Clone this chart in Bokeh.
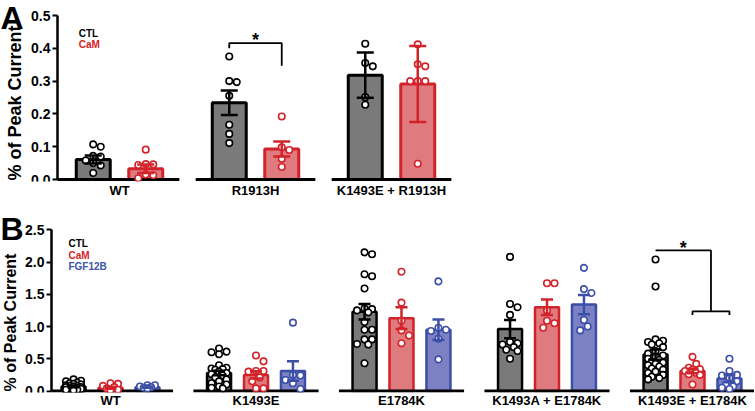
import math
from bokeh.plotting import figure
from bokeh.models import Range1d, FixedTicker, PrintfTickFormatter, Label
from bokeh.layouts import column
from bokeh.embed import file_html
from bokeh.resources import INLINE

FONT = "Liberation Sans"

# ---------------- Panel A data ----------------
A_groups = ["WT", "R1913H", "K1493E + R1913H"]
A_series = ["CTL", "CaM"]
A_ctl_mean = [0.061, 0.234, 0.318]
A_ctl_sem = [0.012, 0.037, 0.069]
A_cam_mean = [0.033, 0.093, 0.291]
A_cam_sem = [0.013, 0.023, 0.116]
A_ctl_pts = [
    [0.107, 0.100, 0.072, 0.070, 0.058, 0.050, 0.043, 0.020],
    [0.375, 0.300, 0.297, 0.255, 0.167, 0.139, 0.111],
    [0.414, 0.355, 0.345, 0.251, 0.228],
]
A_cam_pts = [
    [0.091, 0.047, 0.046, 0.044, 0.015, 0.013, 0.004],
    [0.192, 0.098, 0.090, 0.063, 0.038],
    [0.412, 0.351, 0.345, 0.300, 0.300, 0.300, 0.048],
]
A_yticks = [0.0, 0.1, 0.2, 0.3, 0.4, 0.5]
A_sig_levels = [0.400, 0.416, 0.347]   # left end, top, right end

# ---------------- Panel B data ----------------
B_groups = ["WT", "K1493E", "E1784K", "K1493A + E1784K", "K1493E + E1784K"]
B_series = ["CTL", "CaM", "FGF12B"]
B_ctl_mean = [0.070, 0.280, 1.230, 0.960, 0.565]
B_ctl_sem = [0.010, 0.035, 0.120, 0.140, 0.080]
B_cam_mean = [0.050, 0.250, 1.130, 1.300, 0.310]
B_cam_sem = [0.015, 0.055, 0.170, 0.120, 0.035]
B_fgf_mean = [0.060, 0.310, 0.950, 1.340, 0.195]
B_fgf_sem = [0.008, 0.150, 0.160, 0.150, 0.060]
B_ctl_pts = [
    [0.18, 0.16, 0.15, 0.13, 0.12, 0.11, 0.10, 0.09, 0.08, 0.08, 0.07, 0.06, 0.06, 0.05, 0.04, 0.04, 0.03, 0.02, 0.02, 0.01],
    [0.66, 0.61, 0.60, 0.57, 0.40, 0.36, 0.35, 0.34, 0.33, 0.30, 0.28, 0.26, 0.24, 0.21, 0.18, 0.15, 0.12, 0.10, 0.07, 0.05, 0.04],
    [2.15, 2.12, 1.81, 1.78, 1.59, 1.28, 1.27, 1.25, 1.22, 1.07, 0.95, 0.95, 0.80, 0.80, 0.73, 0.72, 0.43],
    [2.08, 1.35, 1.30, 1.18, 0.76, 0.74, 0.72, 0.68, 0.64, 0.62, 0.50],
    [2.04, 1.62, 0.80, 0.78, 0.76, 0.74, 0.72, 0.68, 0.62, 0.58, 0.55, 0.52, 0.50, 0.48, 0.46, 0.44,
     0.42, 0.40, 0.38, 0.35, 0.33, 0.30, 0.28, 0.25, 0.22, 0.20, 0.18],
]
B_cam_pts = [
    [0.12, 0.11, 0.08, 0.06, 0.04, 0.02, 0.01],
    [0.55, 0.46, 0.31, 0.31, 0.30, 0.21, 0.15, 0.04, 0.04],
    [1.85, 1.37, 1.09, 0.94, 0.86, 0.74],
    [1.67, 1.67, 1.25, 1.09, 1.05, 0.98],
    [0.53, 0.42, 0.36, 0.34, 0.33, 0.31, 0.28, 0.26, 0.25, 0.10],
]
B_fgf_pts = [
    [0.09, 0.09, 0.07, 0.06, 0.05, 0.04],
    [1.06, 0.25, 0.24, 0.17, 0.12, 0.03],
    [1.70, 0.98, 0.95, 0.93, 0.81, 0.49],
    [1.91, 1.58, 1.52, 1.10, 1.00, 0.94],
    [0.50, 0.31, 0.25, 0.24, 0.20, 0.15, 0.10, 0.07, 0.05, 0.03],
]
B_yticks = [0.0, 0.5, 1.0, 1.5, 2.0, 2.5]
B_sig_levels = [2.18, 1.235, 1.18]   # top line, lower bracket, bracket feet

Y_LABEL = "% of Peak Current"

STYLE = {
    "CTL": dict(fill="#7a7a7a", line="#000000", text="#000000"),
    "CaM": dict(fill="#df7b7e", line="#d2232a", text="#d2232a"),
    "FGF12B": dict(fill="#7c81c4", line="#3c4fa6", text="#3c55a8"),
}

W = 754


def swarm(vals, cx, xpu, ypu, d, maxw):
    placed = []
    xs = [0.0] * len(vals)
    order = sorted(range(len(vals)), key=lambda i: -vals[i])
    step = d * 0.5
    cands = [0.0]
    k = 1
    while k * step <= maxw:
        cands += [k * step, -k * step]
        k += 1
    for i in order:
        y = vals[i] * ypu
        best, best_d = None, -1
        for off in cands:
            md = min([((off - px) ** 2 + (y - py) ** 2) ** 0.5 for px, py in placed] + [1e9])
            if md >= d * 0.95:
                best = off
                break
            if md > best_d:
                best_d, best = md, off
        placed.append((best, y))
        xs[i] = cx + best / xpu
    return xs


def put_text(p, x, y, text, size, color, align="left", baseline="middle", angle=0.0):
    p.add_layout(Label(x=x, y=y, text=text, text_align=align, text_baseline=baseline,
                       angle=angle, text_font=FONT, text_font_size=size,
                       text_font_style="bold", text_color=color))


def make_panel(groups, series, means, sems, pts, offsets, bar_w, base_half,
               height, bottom, axis_px, g0_px, xpu, zero_px, top_px, yticks,
               label_size, label_px, lw_bar, pt_size, maxw, xlab_standoff):
    ytop = yticks[-1]
    ypu = (zero_px - top_px) / ytop
    frame_bottom = height - bottom
    y_start = -(frame_bottom - zero_px) / ypu
    y_end = ytop + top_px / ypu
    x_left = -g0_px / xpu
    x_right = (W - g0_px) / xpu
    x_axis = (axis_px - g0_px) / xpu
    p = figure(width=W, height=height, output_backend="svg", toolbar_location=None,
               x_range=Range1d(x_left, x_right), y_range=Range1d(y_start, y_end),
               min_border_left=0, min_border_right=0, min_border_top=0,
               min_border_bottom=bottom)
    p.outline_line_color = None
    p.xgrid.visible = False
    p.ygrid.visible = False

    for si, s in enumerate(series):
        st = STYLE[s]
        xs = [g + offsets[si] for g in range(len(groups))]
        p.vbar(x=xs, top=means[si], bottom=0, width=bar_w, fill_color=st["fill"],
               line_color=st["line"], line_width=lw_bar)

    x0 = [x_axis if g == 0 else g - base_half for g in range(len(groups))]
    x1 = [g + base_half for g in range(len(groups))]
    p.segment(x0=x0, x1=x1, y0=[0] * len(groups), y1=[0] * len(groups),
              line_color="black", line_width=3)

    for si, s in enumerate(series):
        st = STYLE[s]
        px, py = [], []
        for g in range(len(groups)):
            vals = pts[si][g]
            px += swarm(vals, g + offsets[si], xpu, ypu, pt_size + 1, maxw)
            py += vals
        p.scatter(x=px, y=py, marker="circle", size=pt_size, fill_color="white",
                  line_color=st["line"], line_width=1.6)

    for si, s in enumerate(series):
        st = STYLE[s]
        xs = [g + offsets[si] for g in range(len(groups))]
        lo = [m - e for m, e in zip(means[si], sems[si])]
        hi = [m + e for m, e in zip(means[si], sems[si])]
        p.segment(x0=xs, x1=xs, y0=lo, y1=hi, line_color=st["line"], line_width=2.5)
        cw = bar_w * 0.25
        p.segment(x0=[x - cw for x in xs] * 2, x1=[x + cw for x in xs] * 2,
                  y0=lo + hi, y1=lo + hi, line_color=st["line"], line_width=2.5)

    ya = p.yaxis[0]
    ya.fixed_location = x_axis
    ya.ticker = FixedTicker(ticks=yticks)
    ya.formatter = PrintfTickFormatter(format="%.1f")
    ya.bounds = (0, ytop)
    ya.axis_line_width = 2.5
    ya.major_tick_line_width = 2
    ya.major_tick_out = 5
    ya.major_tick_in = 0
    ya.minor_tick_line_color = None
    ya.minor_tick_out = 0
    ya.major_label_text_font = FONT
    ya.major_label_text_font_size = "14px"
    ya.major_label_text_font_style = "bold"
    ya.major_label_text_color = "black"
    ya.major_label_standoff = 2

    # rotated value-axis title, placed inside the (extended) frame
    lx, ly = label_px
    put_text(p, (lx - g0_px) / xpu, (zero_px - ly) / ypu, Y_LABEL, label_size, "black",
             align="center", baseline="middle", angle=math.pi / 2)

    xa = p.xaxis[0]
    xa.ticker = FixedTicker(ticks=list(range(len(groups))))
    xa.major_label_overrides = {i: g for i, g in enumerate(groups)}
    xa.axis_line_color = None
    xa.major_tick_line_color = None
    xa.minor_tick_line_color = None
    xa.major_tick_out = 0
    xa.major_tick_in = 0
    xa.minor_tick_out = 0
    xa.minor_tick_in = 0
    xa.axis_label_standoff = 0
    xa.major_label_text_font = FONT
    xa.major_label_text_font_size = "13px"
    xa.major_label_text_font_style = "bold"
    xa.major_label_text_color = "black"
    xa.major_label_standoff = xlab_standoff
    return p, x_left, ypu


# ---------------- Panel A ----------------
A_H = 200
A_off = [-0.193, 0.193]
pA, axl, aypu = make_panel(
    A_groups, A_series, [A_ctl_mean, A_cam_mean], [A_ctl_sem, A_cam_sem],
    [A_ctl_pts, A_cam_pts], A_off, 0.25, 0.44,
    height=A_H, bottom=19, axis_px=57, g0_px=119, xpu=136.0, zero_px=179, top_px=15,
    yticks=A_yticks, label_size="18px", label_px=(14, 102.5), lw_bar=3, pt_size=6.5,
    maxw=13, xlab_standoff=1)

gx0, gx1 = 1 + A_off[0], 1 + A_off[1]
pA.line(x=[gx0, gx0, gx1, gx1], y=[A_sig_levels[0], A_sig_levels[1], A_sig_levels[1], A_sig_levels[2]],
        line_color="black", line_width=1.8)
put_text(pA, (gx0 + gx1) / 2, A_sig_levels[1] + 0.008, "*", "18px", "black", align="center")
put_text(pA, axl, (179 - 17) / aypu, "A", "32px", "black")
for i, s in enumerate(A_series):
    put_text(pA, -0.30, 0.445 - i * 0.033, s, "10px", STYLE[s]["text"])

# ---------------- Panel B ----------------
B_H = 210
B_off = [-0.254, 0.0, 0.254]
pB, bxl, bypu = make_panel(
    B_groups, B_series, [B_ctl_mean, B_cam_mean, B_fgf_mean], [B_ctl_sem, B_cam_sem, B_fgf_sem],
    [B_ctl_pts, B_cam_pts, B_fgf_pts], B_off, 0.165, 0.43,
    height=B_H, bottom=18, axis_px=51, g0_px=110, xpu=145.5, zero_px=190.5, top_px=29.3,
    yticks=B_yticks, label_size="16px", label_px=(10, 122), lw_bar=2.5, pt_size=6.5,
    maxw=10, xlab_standoff=0)

g = 4
cx0 = g + B_off[0]
cxa, cxb = g + B_off[1], g + B_off[2]
cmid = (cxa + cxb) / 2
pB.line(x=[cx0, cmid, cmid], y=[B_sig_levels[0], B_sig_levels[0], B_sig_levels[1]],
        line_color="black", line_width=1.8)
pB.line(x=[cxa, cxa, cxb, cxb], y=[B_sig_levels[2], B_sig_levels[1], B_sig_levels[1], B_sig_levels[2]],
        line_color="black", line_width=1.8)
put_text(pB, (cx0 + cmid) / 2, B_sig_levels[0] + 0.04, "*", "18px", "black", align="center")
put_text(pB, bxl, (190.5 - 28.5) / bypu, "B", "32px", "black")
for i, s in enumerate(B_series):
    put_text(pB, -0.289, 2.28 - i * 0.175, s, "10px", STYLE[s]["text"])

layout = column(pA, pB)
open("out.html", "w").write(file_html(layout, INLINE))
